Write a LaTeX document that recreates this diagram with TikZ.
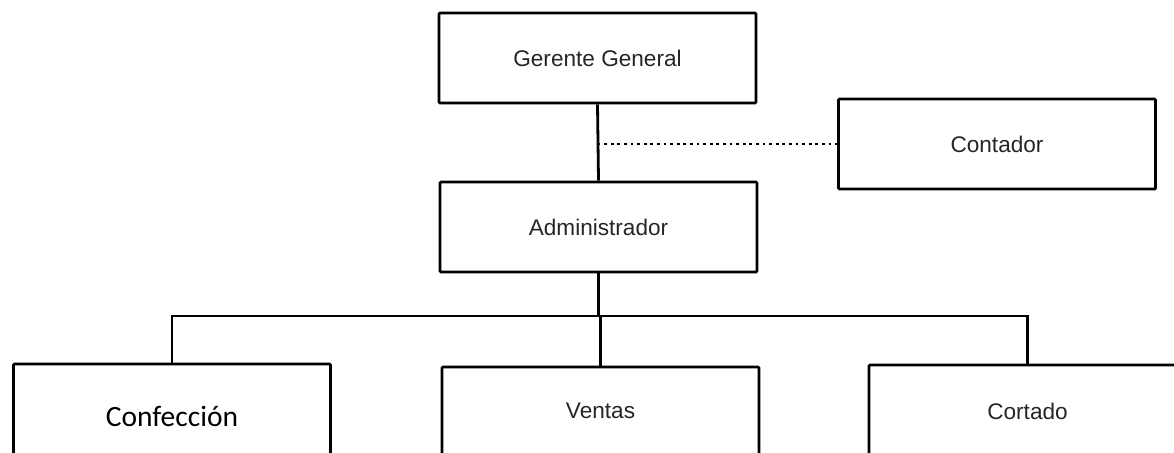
\documentclass[tikz,border=0pt]{standalone}
\usepackage{fontspec}
\setmainfont{Liberation Sans}
\newfontfamily\calibrifont{Carlito}
\begin{document}
\begin{tikzpicture}[x=1pt,y=-1pt,
  orgbox/.style={draw=black, line width=2.8pt, rounded corners=1pt, fill=white,
    minimum width=317pt, minimum height=90pt, inner sep=0pt,
    font=\fontsize{22.6}{25}\selectfont, text=black!85},
  link/.style={draw=black, line width=2.8pt},
  dotlink/.style={draw=black, line width=2.8pt, dash pattern=on 2.8pt off 3.8pt}]
  \useasboundingbox (0,0) rectangle (1174,452);
  \clip (0,0) rectangle (1174,452);

  % upper levels
  \node[orgbox] (gerente) at (597.5,58) {Gerente General};
  \node[orgbox] (admin)   at (598.5,227) {Administrador};
  \node[orgbox] (contador) at (997,144) {Contador};

  % departments (boxes run past the lower edge)
  \node[orgbox, minimum height=104pt, font=\calibrifont\fontsize{29.5}{32}\selectfont, text=black]
    (conf) at (172,416) {Confección};
  \node[orgbox, minimum height=88pt] (ventas) at (600.5,411) {Ventas};
  \node[orgbox, minimum height=92pt] (cortado) at (1027.5,411) {Cortado};

  \coordinate (bus) at (admin.south |- 0,316);
  \coordinate (staff) at (gerente.south |- contador.west);

  % chain of command
  \draw[link] (gerente.south) -- (admin.north);
  \draw[link] (admin.south) -- (bus);
  \draw[link] (conf.north) |- (bus) -| (cortado.north);
  \draw[link] (bus -| ventas.north) -- (ventas.north);

  % staff relation
  \draw[dotlink] (staff) -- (contador.west);
\end{tikzpicture}
\end{document}
